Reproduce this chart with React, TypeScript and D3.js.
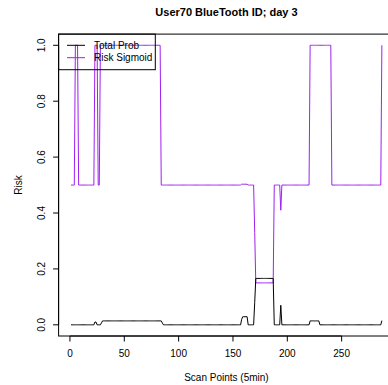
import React from 'react';
import * as d3 from 'd3';

// run-length data: [value, number of scan points]
const totalProbRuns: [number, number][] = [
  [0, 22], [0.01, 2], [0, 4], [0.007, 1], [0.014, 55], [0.007, 1],
  [0, 72], [0.02, 1], [0.029, 5], [0, 6], [0.08, 1], [0.166, 17],
  [0, 6], [0.07, 1], [0, 26], [0.014, 9], [0, 57], [0.015, 1],
];
const riskSigmoidRuns: [number, number][] = [
  [0.5, 4], [1, 3], [0.5, 15], [1, 3], [0.5, 2], [1, 56], [0.5, 74],
  [0.503, 6], [0.5, 6], [0.33, 1], [0.15, 17], [0.5, 6], [0.41, 1],
  [0.5, 26], [1, 20], [0.5, 46], [1, 1],
];
const xTicks = [0, 50, 100, 150, 200, 250];
const yTicks = [0, 0.2, 0.4, 0.6, 0.8, 1.0];
const legendLabels = ['Total Prob', 'Risk Sigmoid'];
const title = 'User70 BlueTooth ID; day 3';

const expand = (runs: [number, number][]) =>
  runs.flatMap(([v, n]) => Array.from({ length: n }, () => v));

const totalProb = expand(totalProbRuns);
const riskSigmoid = expand(riskSigmoidRuns);

const W = 388;
const H = 385;
const font = '"Liberation Sans", Arial, Helvetica, sans-serif';

const App = () => {
  const n = totalProb.length;
  const span = n - 1;
  const x = d3.scaleLinear()
    .domain([1 - 0.04 * span, n + 0.04 * span])
    .range([58.6, 394.3]);
  const y = d3.scaleLinear()
    .domain([-0.04, 1.04])
    .range([336, 34.1]);

  const line = d3.line<number>()
    .x((_, i) => x(i + 1))
    .y((d) => y(d));

  const [x0, x1] = x.range();
  const [yb, yt] = y.range();

  return (
    <svg
      width={W}
      height={H}
      style={{ position: 'absolute', left: 0, top: 0, background: '#fff' }}
      fontFamily={font}
    >
      <rect width={W} height={H} fill="#fff" />
      <text x={(x0 + x1) / 2} y={15.5} textAnchor="middle" fontWeight="bold" fontSize={11}>
        {title}
      </text>

      {/* series */}
      <path d={line(riskSigmoid) ?? ''} fill="none" stroke="#A020F0" strokeWidth={1} />
      <path d={line(totalProb) ?? ''} fill="none" stroke="#000" strokeWidth={1} />

      {/* box */}
      <rect x={x0} y={yt} width={x1 - x0} height={yb - yt} fill="none" stroke="#000" strokeWidth={1} />

      {/* x axis */}
      <line x1={x(xTicks[0])} x2={x(xTicks[xTicks.length - 1])} y1={yb} y2={yb} stroke="#000" />
      {xTicks.map((t) => (
        <g key={t}>
          <line x1={x(t)} x2={x(t)} y1={yb} y2={yb + 5.5} stroke="#000" />
          <text x={x(t)} y={357} textAnchor="middle" fontSize={10}>{t}</text>
        </g>
      ))}
      <text x={(x0 + x1) / 2} y={380.5} textAnchor="middle" fontSize={10}>Scan Points (5min)</text>

      {/* y axis */}
      <line x1={x0} x2={x0} y1={y(yTicks[0])} y2={y(yTicks[yTicks.length - 1])} stroke="#000" />
      {yTicks.map((t) => (
        <g key={t}>
          <line x1={x0 - 5.5} x2={x0} y1={y(t)} y2={y(t)} stroke="#000" />
          <text
            transform={`translate(${44.5},${y(t)}) rotate(-90)`}
            textAnchor="middle"
            fontSize={10}
          >
            {t.toFixed(1)}
          </text>
        </g>
      ))}
      <text transform={`translate(22,${(yb + yt) / 2}) rotate(-90)`} textAnchor="middle" fontSize={10}>
        Risk
      </text>

      {/* legend */}
      <rect x={x0} y={yt} width={155.3 - x0} height={69.7 - yt} fill="none" stroke="#000" />
      {legendLabels.map((lab, i) => (
        <g key={lab}>
          <line
            x1={67}
            x2={85}
            y1={45.3 + i * 12.4}
            y2={45.3 + i * 12.4}
            stroke={i === 0 ? '#000' : '#A020F0'}
          />
          <text x={94} y={45.3 + i * 12.4 + 3.6} fontSize={10}>{lab}</text>
        </g>
      ))}
    </svg>
  );
};

export default App;
